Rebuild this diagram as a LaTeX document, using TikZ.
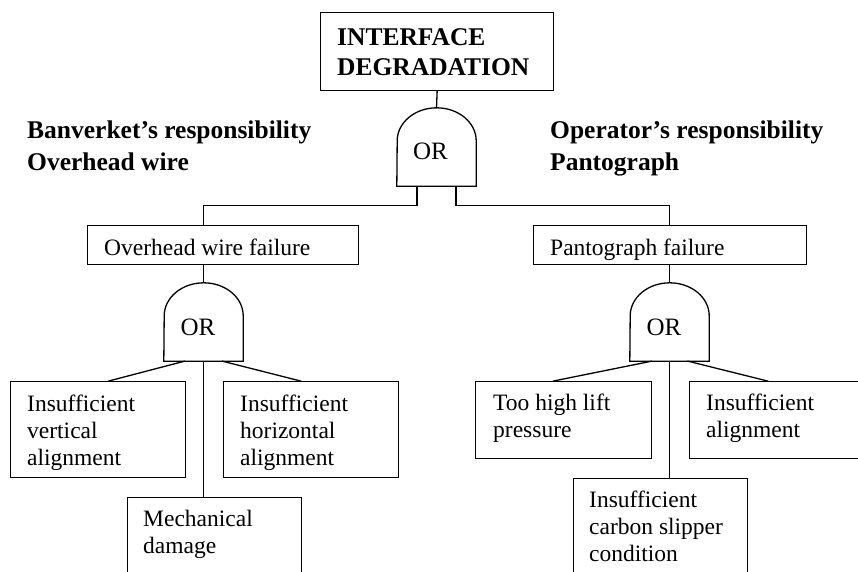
\documentclass[tikz,border=0pt]{standalone}
\usepackage{fontspec}
\setmainfont{Liberation Serif}
\usetikzlibrary{calc}

% OR gate outline drawn around an (invisible) gate node
\newcommand\orgateoutline[1]{%
  \draw[wire] (#1.south west) -- (#1.south east)
    -- ([yshift=-33pt]#1.north east)
    arc[start angle=0,end angle=180,x radius=39.5pt,y radius=33pt] -- cycle;}

\begin{document}
\begin{tikzpicture}[x=1pt,y=-1pt,
  wire/.style={line width=1.3pt, line cap=rect},
  evbox/.style={draw, line width=1.3pt, inner sep=0, anchor=north west},
  gatenode/.style={minimum width=79pt, minimum height=78pt, inner sep=0},
  % multi-line texts are placed by the baseline of their last line
  txt/.style={font=\fontsize{23.5}{27}\selectfont, inner sep=0, anchor=base west, align=left},
  hdr/.style={font=\bfseries\fontsize{25.5}{32.5}\selectfont, inner sep=0, anchor=base west, align=left},
  ortxt/.style={font=\fontsize{25}{27}\selectfont, inner sep=0, anchor=base}]
\useasboundingbox (0,0) rectangle (858,571);
\clip (0,0) rectangle (858,571);

% top event
\node[evbox, minimum width=233pt, minimum height=78pt] (top) at (320,12) {};
\node[txt, font=\bfseries\fontsize{25.5}{30}\selectfont] (toptxt) at (337,75) {INTERFACE\\DEGRADATION};

% responsibility headings
\node[hdr] (hleft) at (27,170.5) {Banverket’s responsibility\\Overhead wire};
\node[hdr] (hright) at (550,170.5) {Operator’s responsibility\\Pantograph};

% top OR gate
\node[gatenode] (g0) at (436.5,147) {};
\orgateoutline{g0}
\node[ortxt] (g0t) at ([xshift=-6pt,yshift=-12pt]g0.center) {OR};

% intermediate events
\node[evbox, minimum width=271pt, minimum height=39pt] (b1) at (87,225) {};
\node[txt] (b1t) at (104,255) {Overhead wire failure};
\node[evbox, minimum width=273pt, minimum height=39pt] (b2) at (533,225) {};
\begin{scope}
  \clip ([xshift=1pt,yshift=-1pt]b2.north west) rectangle ([xshift=-1pt,yshift=5pt]b2.south east);
  \node[txt] (b2t) at (550,255) {Pantograph failure};
\end{scope}

% lower OR gates
\node[gatenode] (g1) at (203.5,322) {};
\orgateoutline{g1}
\node[ortxt] (g1t) at ([xshift=-5.5pt,yshift=-13pt]g1.center) {OR};
\node[gatenode] (g2) at (669.5,322) {};
\orgateoutline{g2}
\node[ortxt] (g2t) at ([xshift=-5.5pt,yshift=-13pt]g2.center) {OR};

% basic events, overhead wire side
\node[evbox, minimum width=175pt, minimum height=96pt] (l1) at (10,381) {};
\node[txt] (l1t) at (27,465) {Insufficient\\vertical\\alignment};
\node[evbox, minimum width=175pt, minimum height=96pt] (l2) at (223,381) {};
\node[txt] (l2t) at (240,465) {Insufficient\\horizontal\\alignment};
\node[evbox, minimum width=174pt, minimum height=97pt] (l3) at (127,497) {};
\node[txt] (l3t) at (143,553) {Mechanical\\damage};

% basic events, pantograph side
\node[evbox, minimum width=176pt, minimum height=77pt] (r1) at (475,381) {};
\node[txt] (r1t) at (493,437) {Too high lift\\pressure};
\node[evbox, minimum width=176pt, minimum height=77pt] (r2) at (689,381) {};
\node[txt] (r2t) at (706,437) {Insufficient\\alignment};
\node[evbox, minimum width=174pt, minimum height=97pt] (r3) at (573,478) {};
\node[txt] (r3t) at (589,561) {Insufficient\\carbon slipper\\condition};

% connectors
\draw[wire] (top.south) -- (g0.north);
\draw[wire] ([xshift=-19.5pt]g0.south) -- ++(0,19) -| (g1.north |- b1.north);
\draw[wire] ([xshift=19.5pt]g0.south) -- ++(0,19) -| (g2.north |- b2.north);
\draw[wire] (g1.north |- b1.south) -- (g1.north);
\draw[wire] (g2.north |- b2.south) -- (g2.north);

\draw[wire] ([xshift=-19pt]g1.south) -- ($(l1.north west)!0.56!(l1.north east)$);
\draw[wire] (g1.south) -- (g1.south |- l3.north);
\draw[wire] ([xshift=19pt]g1.south) -- ($(l2.north west)!0.44!(l2.north east)$);

\draw[wire] ([xshift=-18pt]g2.south) -- ($(r1.north west)!0.443!(r1.north east)$);
\draw[wire] (g2.south) -- (g2.south |- r3.north);
\draw[wire] ([xshift=18.5pt]g2.south) -- ($(r2.north west)!0.443!(r2.north east)$);
\end{tikzpicture}
\end{document}
